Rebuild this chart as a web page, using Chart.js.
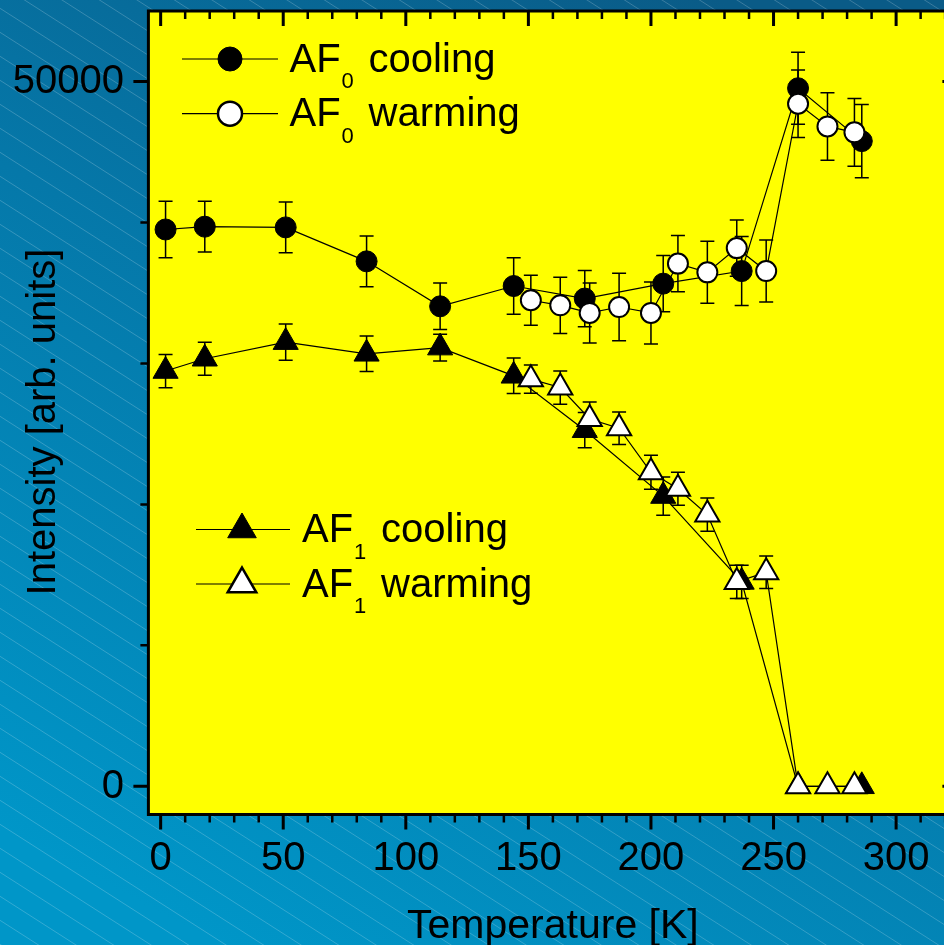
<!DOCTYPE html>
<html>
<head>
<meta charset="utf-8">
<script src="https://cdn.jsdelivr.net/npm/chart.js@4.4.1/dist/chart.umd.min.js"></script>
<style>
  html, body { margin: 0; padding: 0; overflow: hidden; background: #0a7fb0; }
  #wrap { width: 944px; height: 945px; overflow: hidden; position: relative; }
  canvas { display: block; width: 962px; height: 945px; }
</style>
</head>
<body>
<div id="wrap"><canvas id="chart" width="962" height="945"></canvas></div>
<script>
// temperatures [K]
const tCooling = [2, 18, 51, 84, 114, 144, 173, 205, 237, 260, 286];
const tWarming = [151, 163, 175, 187, 200, 211, 223, 235, 247, 260, 272, 283];

// AF0 intensities
const af0Cooling = [39500, 39700, 39650, 37240, 34050, 35490, 34600, 35660, 36550, 49520, 45770];
const af0CoolingErr = [2000, 1800, 1800, 1800, 1650, 2000, 2000, 2000, 2450, 2550, 2600];
const af0Warming = [34480, 34120, 33580, 34000, 33580, 37080, 36460, 38180, 36550, 48420, 46810, 46390];
const af0WarmingErr = [1770, 2000, 2130, 2390, 2200, 2000, 2200, 2000, 2200, 2400, 2390, 2400];

// AF1 intensities
const af1Cooling = [29460, 30330, 31510, 30680, 31120, 29120, 25260, 20590, 14500, 0, 0];
const af1CoolingErr = [1180, 1170, 1290, 1260, 950, 1260, 1250, 1360, 1180, 0, 0];
const af1Warming = [28880, 28290, 26060, 25400, 22280, 21110, 19280, 14500, 15190, 0, 0, 0];
const af1WarmingErr = [1000, 1180, 1200, 1160, 1200, 1170, 1180, 1180, 1150, 0, 0, 0];

// axis ticks
const xMajorTicks = [0, 50, 100, 150, 200, 250, 300];
const xMinorTicks = [10, 20, 30, 40, 60, 70, 80, 90, 110, 120, 130, 140, 160, 170, 180, 190,
                     210, 220, 230, 240, 260, 270, 280, 290, 310, 320];
const yMajorTicks = [0, 50000];
const yMinorTicks = [10000, 20000, 30000, 40000];

const FONT = "'Liberation Sans', Arial, sans-serif";

function pts(xs, ys) {
  return xs.map((x, i) => ({ x: x, y: ys[i] }));
}

function trianglePath(ctx, x, y, r) {
  ctx.beginPath();
  for (let k = 0; k < 3; k++) {
    const a = k * 2 * Math.PI / 3;
    const px = x + Math.sin(a) * r, py = y - Math.cos(a) * r;
    if (k === 0) ctx.moveTo(px, py); else ctx.lineTo(px, py);
  }
  ctx.closePath();
}

function legendEntry(ctx, lineY, x1, x2, mx, shape, filled, textX, sub, word) {
  ctx.strokeStyle = '#000';
  ctx.lineWidth = 1.2;
  ctx.beginPath(); ctx.moveTo(x1, lineY); ctx.lineTo(x2, lineY); ctx.stroke();
  ctx.fillStyle = filled ? '#000' : '#fff';
  ctx.lineWidth = filled ? 1 : 2.5;
  if (shape === 'circle') {
    ctx.beginPath(); ctx.arc(mx, lineY, 12, 0, 2 * Math.PI);
  } else {
    trianglePath(ctx, mx, lineY, 16.5);
  }
  ctx.fill(); ctx.stroke();
  ctx.fillStyle = '#000';
  ctx.textAlign = 'left';
  ctx.textBaseline = 'alphabetic';
  ctx.font = '40px ' + FONT;
  const base = lineY + 12.7;
  ctx.fillText('AF', textX, base);
  const w = ctx.measureText('AF').width;
  ctx.font = '22px ' + FONT;
  ctx.fillText(sub, textX + w + 1, base + 16.5);
  ctx.font = '40px ' + FONT;
  ctx.fillText(word, textX + w + 28, base);
}

const decor = {
  id: 'decor',
  beforeDraw(chart) {
    const { ctx, width, height, chartArea: a } = chart;
    ctx.save();
    const g = ctx.createLinearGradient(720, 0, 220, height);
    g.addColorStop(0, '#0a5b87');
    g.addColorStop(0.45, '#0578a9');
    g.addColorStop(1, '#0096c8');
    ctx.fillStyle = g;
    ctx.fillRect(0, 0, width, height);
    ctx.strokeStyle = 'rgba(255,255,255,0.2)';
    ctx.lineWidth = 1;
    const slope = 0.64;
    for (let c = -width * slope; c < height; c += 24) {
      ctx.beginPath(); ctx.moveTo(0, c); ctx.lineTo(width, c + width * slope); ctx.stroke();
    }
    ctx.fillStyle = '#ffff00';
    ctx.fillRect(a.left, a.top, a.right - a.left, a.bottom - a.top);
    ctx.restore();
  },
  beforeDatasetsDraw(chart) {
    const { ctx, scales: { x, y } } = chart;
    ctx.save();
    ctx.strokeStyle = '#000';
    ctx.lineWidth = 1.5;
    chart.data.datasets.forEach(ds => {
      ds.data.forEach((p, i) => {
        const e = ds.errs[i];
        if (!e) return;
        const px = x.getPixelForValue(p.x);
        const y1 = y.getPixelForValue(p.y + e), y2 = y.getPixelForValue(p.y - e);
        ctx.beginPath();
        ctx.moveTo(px, y1); ctx.lineTo(px, y2);
        ctx.moveTo(px - 7, y1); ctx.lineTo(px + 7, y1);
        ctx.moveTo(px - 7, y2); ctx.lineTo(px + 7, y2);
        ctx.stroke();
      });
    });
    ctx.restore();
  },
  afterDraw(chart) {
    const { ctx, chartArea: a, scales: { x, y } } = chart;
    ctx.save();
    ctx.strokeStyle = '#000';
    ctx.lineWidth = 3;
    ctx.strokeRect(a.left, a.top, a.right - a.left, a.bottom - a.top);

    // x ticks: outward at bottom, inward at top
    xMajorTicks.forEach(v => {
      const px = x.getPixelForValue(v);
      ctx.lineWidth = 3;
      ctx.beginPath();
      ctx.moveTo(px, a.bottom); ctx.lineTo(px, a.bottom + 15);
      ctx.moveTo(px, a.top); ctx.lineTo(px, a.top + 15);
      ctx.stroke();
    });
    xMinorTicks.forEach(v => {
      const px = x.getPixelForValue(v);
      ctx.lineWidth = 2.5;
      ctx.beginPath();
      ctx.moveTo(px, a.bottom); ctx.lineTo(px, a.bottom + 8);
      ctx.moveTo(px, a.top); ctx.lineTo(px, a.top + 8);
      ctx.stroke();
    });
    // y ticks: outward at left, inward at right
    yMajorTicks.forEach(v => {
      const py = y.getPixelForValue(v);
      ctx.lineWidth = 3;
      ctx.beginPath();
      ctx.moveTo(a.left, py); ctx.lineTo(a.left - 15, py);
      ctx.moveTo(a.right, py); ctx.lineTo(a.right - 15, py);
      ctx.stroke();
    });
    yMinorTicks.forEach(v => {
      const py = y.getPixelForValue(v);
      ctx.lineWidth = 2.5;
      ctx.beginPath();
      ctx.moveTo(a.left, py); ctx.lineTo(a.left - 8, py);
      ctx.moveTo(a.right, py); ctx.lineTo(a.right - 8, py);
      ctx.stroke();
    });

    // tick labels
    ctx.fillStyle = '#000';
    ctx.font = '40px ' + FONT;
    ctx.textAlign = 'center';
    ctx.textBaseline = 'alphabetic';
    xMajorTicks.forEach(v => ctx.fillText(String(v), x.getPixelForValue(v), 869.5));
    ctx.textAlign = 'right';
    yMajorTicks.forEach(v => ctx.fillText(String(v), 124, y.getPixelForValue(v) + 11.5));

    // axis titles
    ctx.textAlign = 'center';
    ctx.font = '41px ' + FONT;
    ctx.fillText('Temperature [K]', (a.left + a.right) / 2, 938);
    ctx.save();
    ctx.translate(55, 422);
    ctx.rotate(-Math.PI / 2);
    ctx.font = '40px ' + FONT;
    ctx.fillText('Intensity [arb. units]', 0, 0);
    ctx.restore();

    // legends
    legendEntry(ctx, 59, 182, 278, 230, 'circle', true, 289.5, '0', 'cooling');
    legendEntry(ctx, 113.7, 182, 278, 230, 'circle', false, 289.5, '0', 'warming');
    legendEntry(ctx, 529.5, 196, 290, 242, 'triangle', true, 302, '1', 'cooling');
    legendEntry(ctx, 584, 196, 290, 242, 'triangle', false, 302, '1', 'warming');
    ctx.restore();
  }
};

function series(label, xs, ys, errs, style, filled, order) {
  const tri = style === 'triangle';
  return {
    label: label,
    data: pts(xs, ys),
    errs: errs,
    order: order,
    showLine: true,
    borderColor: '#000',
    borderWidth: 1.2,
    pointStyle: style,
    pointRadius: tri ? (filled ? 14.5 : 14) : (filled ? 10.5 : 10),
    pointBackgroundColor: filled ? '#000' : '#fff',
    pointBorderColor: '#000',
    pointBorderWidth: filled ? 1 : 2,
    tension: 0,
    clip: false
  };
}

function createChart() {
  const ctx = document.getElementById('chart').getContext('2d');
  new Chart(ctx, {
    type: 'scatter',
    data: {
      datasets: [
        series('AF0 cooling', tCooling, af0Cooling, af0CoolingErr, 'circle', true, 3),
        series('AF1 cooling', tCooling, af1Cooling, af1CoolingErr, 'triangle', true, 2),
        series('AF0 warming', tWarming, af0Warming, af0WarmingErr, 'circle', false, 1),
        series('AF1 warming', tWarming, af1Warming, af1WarmingErr, 'triangle', false, 0)
      ]
    },
    options: {
      responsive: false,
      animation: false,
      events: [],
      // canvas is wider than the page: the frame's right edge lies just past the picture
      layout: { autoPadding: false, padding: { left: 148.4, right: 4.6, top: 11, bottom: 130.5 } },
      scales: {
        x: { type: 'linear', display: false, min: -5, max: 325 },
        y: { type: 'linear', display: false, min: -2000, max: 55000 }
      },
      plugins: {
        legend: { display: false },
        tooltip: { enabled: false }
      }
    },
    plugins: [decor]
  });
}

window.addEventListener('load', createChart);
</script>
</body>
</html>
